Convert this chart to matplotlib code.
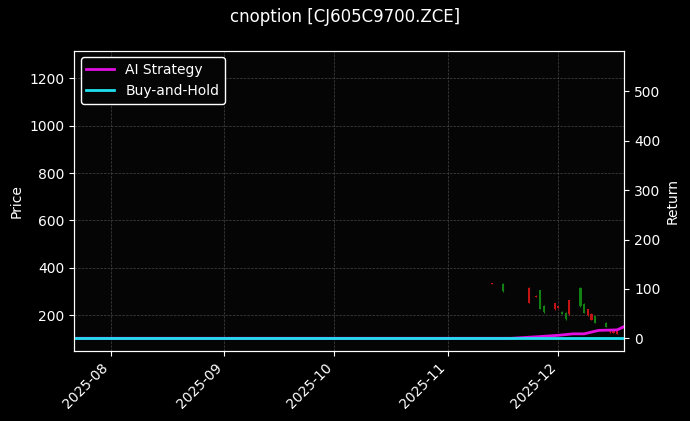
import numpy as np
import pandas as pd
import matplotlib
matplotlib.use("Agg")
import matplotlib.pyplot as plt
import matplotlib.dates as mdates

# candle data
candle_dates = ["2025-11-13", "2025-11-16", "2025-11-23", "2025-11-25", "2025-11-26", "2025-11-27",
                "2025-11-30", "2025-12-01", "2025-12-02", "2025-12-03", "2025-12-04", "2025-12-07",
                "2025-12-08", "2025-12-09", "2025-12-10", "2025-12-11", "2025-12-14", "2025-12-15",
                "2025-12-16", "2025-12-17"]
opens = [335, 300, 315, 282, 228, 212, 250, 238, 205, 182, 262, 238, 210, 225, 205, 168, 150, 140, 135, 132]
closes = [331, 330, 252, 278, 305, 240, 225, 232, 215, 210, 205, 315, 248, 200, 180, 195, 168, 128, 125, 122]
highs = [336, 335, 318, 284, 308, 242, 252, 240, 218, 212, 265, 320, 252, 228, 208, 198, 170, 142, 137, 134]
lows = [330, 298, 250, 276, 225, 210, 222, 230, 203, 180, 200, 234, 208, 198, 178, 166, 148, 126, 123, 120]

# strategy / benchmark returns (%)
ret_dates = ["2025-07-22", "2025-11-18", "2025-11-25", "2025-12-01", "2025-12-05", "2025-12-08",
             "2025-12-12", "2025-12-17", "2025-12-19"]
ai_strategy = [0, 0, 3, 6, 9, 9, 16, 17, 24]
bh_dates = ["2025-07-22", "2025-12-19"]
buy_hold = [0, 0]

plt.style.use("dark_background")
fig, ax = plt.subplots(figsize=(6.9, 4.21), dpi=100)
fig.patch.set_facecolor("#000000")
ax.set_facecolor("#050505")

cd = pd.to_datetime(candle_dates)
for d, o, c, h, l in zip(cd, opens, closes, highs, lows):
    col = "#128012" if c >= o else "#c41414"
    ax.vlines(d, l, h, color=col, linewidth=0.8)
    ax.bar(d, abs(c - o) if abs(c - o) > 1 else 2, bottom=min(o, c), width=0.6, color=col)

ax.set_ylim(48, 1318)
ax.set_yticks([200, 400, 600, 800, 1000, 1200])
ax.set_ylabel("Price")
ax.grid(True, color="#555555", linestyle="--", linewidth=0.5, alpha=0.8)

ax2 = ax.twinx()
l1, = ax2.plot(pd.to_datetime(ret_dates), ai_strategy, color="#e010e0", linewidth=2, label="AI Strategy")
l2, = ax2.plot(pd.to_datetime(bh_dates), buy_hold, color="#20e0f0", linewidth=2, label="Buy-and-Hold")
ax2.set_ylim(-26, 583)
ax2.set_yticks([0, 100, 200, 300, 400, 500])
ax2.set_ylabel("Return")

ax.set_xlim(pd.Timestamp("2025-07-22"), pd.Timestamp("2025-12-19"))
ax.xaxis.set_major_locator(mdates.MonthLocator())
ax.xaxis.set_major_formatter(mdates.DateFormatter("%Y-%m"))
plt.setp(ax.get_xticklabels(), rotation=45, ha="right")

leg = ax2.legend(handles=[l1, l2], loc="upper left", facecolor="#050505", edgecolor="white", framealpha=1)
fig.suptitle("cnoption [CJ605C9700.ZCE]", fontsize=12)
fig.subplots_adjust(left=0.107, right=0.905, top=0.88, bottom=0.166)
fig.savefig("out.png", dpi=100, facecolor=fig.get_facecolor())
